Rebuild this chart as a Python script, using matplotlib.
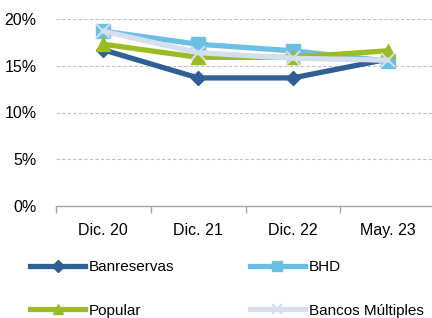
import matplotlib
matplotlib.use("Agg")
import matplotlib.pyplot as plt
from matplotlib.ticker import FixedLocator, PercentFormatter

plt.rcParams["font.family"] = ["Liberation Sans", "DejaVu Sans"]

# data (percent)
periods = ["Dic. 20", "Dic. 21", "Dic. 22", "May. 23"]
banreservas = [16.7, 13.7, 13.7, 15.7]
bhd = [18.7, 17.3, 16.6, 15.5]
popular = [17.3, 15.9, 15.9, 16.6]
bancos_multiples = [18.7, 16.4, 15.8, 15.6]

fig = plt.figure(figsize=(4.32, 3.18), dpi=100)
ax = fig.add_axes([56 / 432, 1 - 206 / 318, 379 / 432, 187 / 318])

x = range(len(periods))
l1, = ax.plot(x, banreservas, color="#2F5F95", lw=3.8, marker="D", ms=7.5, label="Banreservas")
l2, = ax.plot(x, bhd, color="#6BBFE3", lw=3.8, marker="s", ms=9.5, label="BHD")
l3, = ax.plot(x, popular, color="#9ABB22", lw=3.8, marker="^", ms=10, label="Popular")
l4, = ax.plot(x, bancos_multiples, color="#D3DEEE", lw=3.8, marker="x", ms=10, mew=1.5,
              label="Bancos Múltiples")

ax.set_xlim(-0.5, len(periods) - 0.5)
ax.set_ylim(0, 20)
ax.set_yticks([0, 5, 10, 15, 20])
ax.yaxis.set_major_formatter(PercentFormatter(decimals=0))
ax.grid(axis="y", color="#BFBFBF", ls=(0, (3, 2)), lw=0.8)
ax.set_axisbelow(True)

ax.set_xticks(list(x))
ax.set_xticklabels(periods)
ax.xaxis.set_minor_locator(FixedLocator([i - 0.5 for i in range(len(periods) + 1)]))
ax.tick_params(axis="x", which="major", length=0, pad=12, labelsize=11.5)
ax.tick_params(axis="x", which="minor", length=5, color="#A6A6A6", width=1)
ax.tick_params(axis="y", length=0, pad=14, labelsize=11.5)

for s in ["left", "right", "top"]:
    ax.spines[s].set_visible(False)
ax.spines["bottom"].set_color("#A6A6A6")
ax.spines["bottom"].set_linewidth(1)

# legend fills column-wise, so order for rows: Banreservas/BHD, Popular/Bancos
fig.legend([l1, l3, l2, l4], [l.get_label() for l in (l1, l3, l2, l4)],
           loc="upper left", bbox_to_anchor=(30 / 432, 1 - 260 / 318), ncol=2,
           frameon=False, fontsize=11, handlelength=3.6, handletextpad=0.25,
           columnspacing=4.95, labelspacing=1.95, borderaxespad=0, borderpad=0,
           markerscale=0.75)

fig.savefig("out.png", dpi=100)
